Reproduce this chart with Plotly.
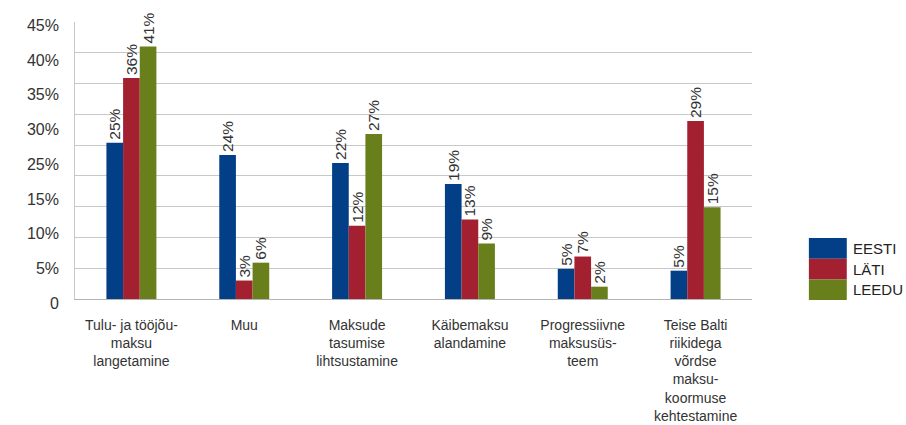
import plotly.graph_objects as go

categories = [
    "Tulu- ja tööjõu-<br>maksu<br>langetamine",
    "Muu",
    "Maksude<br>tasumise<br>lihtsustamine",
    "Käibemaksu<br>alandamine",
    "Progressiivne<br>maksusüs-<br>teem",
    "Teise Balti<br>riikidega<br>võrdse<br>maksu-<br>koormuse<br>kehtestamine",
]
series_names = ["EESTI", "LÄTI", "LEEDU"]
colors = ["#023f86", "#a2202f", "#697f1c"]

# bar heights
eesti = [25.4, 23.4, 22.1, 18.7, 4.9, 4.6]
lati = [35.9, 3.0, 11.9, 12.9, 6.9, 28.9]
leedu = [41.0, 5.9, 26.8, 9.0, 2.0, 14.9]
# value labels printed on the bars
eesti_lbl = ["25%", "24%", "22%", "19%", "5%", "5%"]
lati_lbl = ["36%", "3%", "12%", "13%", "7%", "29%"]
leedu_lbl = ["41%", "6%", "27%", "9%", "2%", "15%"]
# y tick labels as printed (evenly spread along the axis)
ytick_text = ["0", "5%", "10%", "15%", "25%", "30%", "35%", "40%", "45%"]

values = [eesti, lati, leedu]
labels = [eesti_lbl, lati_lbl, leedu_lbl]

FONT = "Liberation Sans, Arial, sans-serif"

fig = go.Figure()
for name, col, vals, lbl in zip(series_names, colors, values, labels):
    fig.add_trace(go.Bar(
        x=categories, y=vals, name=name, marker_color=col, marker_line_width=0,
        text=lbl, textposition="outside", textangle=-90, constraintext="none",
        textfont=dict(family=FONT, size=15.5, color="#333333"),
        cliponaxis=False, showlegend=False,
    ))

# helper trace for the printed tick-label axis
fig.add_trace(go.Scatter(x=[categories[0]], y=[None], yaxis="y2", showlegend=False,
                         hoverinfo="skip", mode="markers"))

fig.update_layout(
    width=906, height=425,
    margin=dict(l=75, r=154, t=22, b=116, autoexpand=False),
    paper_bgcolor="white", plot_bgcolor="rgba(0,0,0,0)",
    barmode="group", bargap=0.557, bargroupgap=0,
    font=dict(family=FONT, color="#333333"),
    xaxis=dict(
        tickfont=dict(size=14, color="#333333"),
        showline=True, linecolor="#b4b4b4", linewidth=1,
        ticks="", showgrid=False, ticklabelstandoff=13, automargin=False,
    ),
    yaxis=dict(
        domain=[10 / 287, 1],
        range=[0, 45], dtick=5, showticklabels=False,
        showgrid=True, gridcolor="#c8c8c8", gridwidth=1,
        showline=True, linecolor="#c8c8c8", linewidth=1,
        zeroline=False, ticks="", automargin=False,
    ),
    yaxis2=dict(
        domain=[0.0202, 0.989], anchor="free", position=0, side="left",
        range=[0, 8],
        tickvals=list(range(len(ytick_text))), ticktext=ytick_text,
        showgrid=False, zeroline=False, showline=False, ticks="",
        tickfont=dict(size=16, color="#333333"), ticklabelstandoff=16,
        automargin=False,
    ),
    showlegend=False,
)

# legend drawn as contiguous swatches
sw_x0, sw_x1 = 1.084, 1.140  # paper x
sw_top, sw_h = 0.2474, 0.0721  # paper y
for i, (name, col) in enumerate(zip(series_names, colors)):
    y1 = sw_top - i * sw_h
    y0 = y1 - sw_h
    fig.add_shape(type="rect", xref="paper", yref="paper", x0=sw_x0, x1=sw_x1,
                  y0=y0, y1=y1, fillcolor=col, line_width=0)
    fig.add_annotation(xref="paper", yref="paper", x=sw_x1 + 0.006, y=(y0 + y1) / 2,
                       text=name, showarrow=False, xanchor="left", yanchor="middle",
                       font=dict(family=FONT, size=15, color="#222222"))

fig.write_html("out.html", config={"displayModeBar": False})
with open("out.html", encoding="utf-8") as f:
    html = f.read()
html = html.replace("<body>", '<body style="margin:0;padding:0;overflow:hidden">', 1)
with open("out.html", "w", encoding="utf-8") as f:
    f.write(html)
